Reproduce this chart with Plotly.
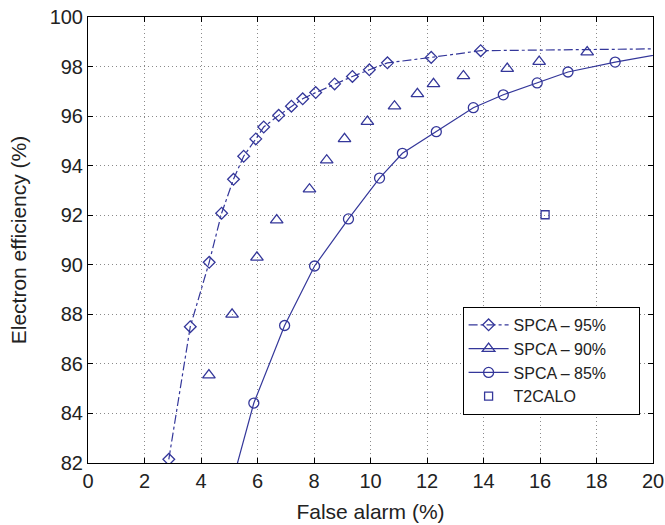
import plotly.graph_objects as go

# SPCA - 95%
x95 = [2.86, 3.62, 4.29, 4.73, 5.15, 5.51, 5.94, 6.22, 6.75, 7.2, 7.6, 8.06, 8.73, 9.36, 9.96, 10.6, 12.15, 13.9, 20.5]
y95 = [82.15, 87.5, 90.1, 92.08, 93.45, 94.38, 95.08, 95.56, 96.03, 96.4, 96.7, 96.95, 97.3, 97.6, 97.87, 98.15, 98.37, 98.64, 98.72]

# SPCA - 90%
x90 = [4.28, 5.1, 5.98, 6.68, 7.84, 8.45, 9.08, 9.89, 10.85, 11.66, 12.23, 13.29, 14.84, 15.97, 17.67]
y90 = [85.55, 88.0, 90.3, 91.8, 93.05, 94.22, 95.08, 95.78, 96.4, 96.9, 97.3, 97.62, 97.92, 98.2, 98.58]

# SPCA - 85%
x85 = [5.1, 5.87, 6.96, 8.02, 9.22, 10.32, 11.13, 12.33, 13.64, 14.7, 15.9, 16.99, 18.66, 20.5]
y85 = [81.2, 84.42, 87.55, 89.95, 91.85, 93.5, 94.5, 95.37, 96.34, 96.86, 97.34, 97.78, 98.18, 98.55]

# T2CALO
xt2 = [16.18]
yt2 = [92.02]

names = ["SPCA \u2013 95%", "SPCA \u2013 90%", "SPCA \u2013 85%", "T2CALO"]

xticks = list(range(0, 21, 2))
yticks = list(range(82, 101, 2))

col = "#34379a"
font = "Liberation Sans, Arial, sans-serif"
pad = "\u00a0" * 6  # right padding inside legend box

# 90% drawn as separate points (legend shows line sample)
x90g, y90g = [], []
for a, b in zip(x90, y90):
    x90g += [a, None]
    y90g += [b, None]

fig = go.Figure()
fig.add_trace(go.Scatter(x=x95, y=y95, mode="lines+markers", name=names[0] + pad,
                         line=dict(color=col, width=1.2, dash="dashdot"),
                         marker=dict(symbol="diamond-open", size=9, color=col, line=dict(width=1.3))))
fig.add_trace(go.Scatter(x=x90g, y=y90g, mode="lines+markers", name=names[1] + pad,
                         connectgaps=False,
                         line=dict(color=col, width=1.2),
                         marker=dict(symbol="triangle-up-open", size=11, color=col, line=dict(width=1.3))))
fig.add_trace(go.Scatter(x=x85, y=y85, mode="lines+markers", name=names[2] + pad,
                         line=dict(color=col, width=1.2),
                         marker=dict(symbol="circle-open", size=10, color=col, line=dict(width=1.3))))
fig.add_trace(go.Scatter(x=xt2, y=yt2, mode="markers", name=names[3],
                         marker=dict(symbol="square-open", size=8, color=col, line=dict(width=1.3))))

axis_common = dict(showline=True, linecolor="black", linewidth=1, mirror="ticks",
                   ticks="inside", ticklen=5, tickcolor="black", automargin=False,
                   showgrid=True, gridcolor="#8a8a8a", griddash="1px,3px", gridwidth=1,
                   zeroline=False, tickfont=dict(size=20, color="#222222", family=font))

fig.update_layout(
    width=665, height=525,
    margin=dict(l=88, r=12, t=17, b=62),
    paper_bgcolor="white", plot_bgcolor="white",
    font=dict(family=font, color="#222222"),
    xaxis=dict(range=[0, 20], tickvals=xticks,
               title=dict(text="False alarm (%)", font=dict(size=21), standoff=13), **axis_common),
    yaxis=dict(range=[82, 100], tickvals=yticks,
               title=dict(text="Electron efficiency (%)", font=dict(size=21), standoff=17), **axis_common),
    legend=dict(x=0.663, y=0.35, xanchor="left", yanchor="top",
                bgcolor="white", bordercolor="black", borderwidth=1,
                font=dict(size=16, family=font, color="#222222"),
                tracegroupgap=0, itemwidth=40),
    showlegend=True,
)

fig.write_html("out.html", config={"displayModeBar": False},
               post_script="document.body.style.margin='0';document.body.style.overflow='hidden';")
